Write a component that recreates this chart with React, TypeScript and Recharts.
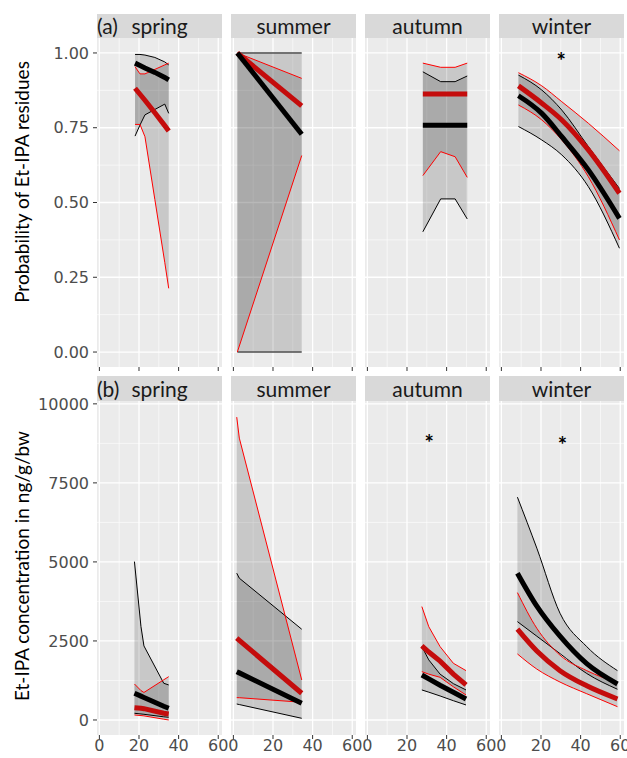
import React from "react";
import { ComposedChart, Area, Line, XAxis, YAxis, CartesianGrid, ReferenceDot } from "recharts";

const seasons = ["spring", "summer", "autumn", "winter"];
const xTicks = [0, 20, 40, 60];
const xMinor = [10, 30, 50];
const probTicks = [0, 0.25, 0.5, 0.75, 1];
const probMinor = [0.125, 0.375, 0.625, 0.875];
const concTicks = [0, 2500, 5000, 7500, 10000];
const concMinor = [1250, 3750, 6250, 8750];

// (a) probability of residues
const pSprX = [18, 20.5, 23, 28, 33, 35];
const pSprBFit = [0.966, 0.958, 0.95, 0.935, 0.918, 0.91];
const pSprBLo = [0.722, 0.759, 0.793, 0.811, 0.829, 0.798];
const pSprBHi = [0.995, 0.995, 0.993, 0.985, 0.97, 0.96];
const pSprRFit = [0.882, 0.862, 0.842, 0.8, 0.757, 0.739];
const pSprRLo = [0.761, 0.761, 0.72, 0.51, 0.3, 0.213];
const pSprRHi = [0.954, 0.93, 0.93, 0.945, 0.96, 0.966];

const pSumX = [2, 34.5];
const pSumBFit = [1.0, 0.728];
const pSumBLo = [0, 0];
const pSumBHi = [1, 1];
const pSumRFit = [1.0, 0.823];
const pSumRLo = [0, 0.657];
const pSumRHi = [1.0, 0.915];

const pAutX = [28, 37, 44.3, 50.4];
const pAutBFit = [0.758, 0.758, 0.758, 0.758];
const pAutBLo = [0.402, 0.512, 0.512, 0.445];
const pAutBHi = [0.937, 0.904, 0.904, 0.923];
const pAutRFit = [0.863, 0.863, 0.863, 0.863];
const pAutRLo = [0.59, 0.67, 0.653, 0.584];
const pAutRHi = [0.966, 0.952, 0.952, 0.966];

const pWinX = [8.6, 20.4, 30.5, 43.9, 59.6];
const pWinBFit = [0.857, 0.798, 0.72, 0.609, 0.447];
const pWinBLo = [0.754, 0.709, 0.659, 0.553, 0.347];
const pWinBHi = [0.926, 0.876, 0.809, 0.687, 0.547];
const pWinRFit = [0.89, 0.832, 0.776, 0.676, 0.531];
const pWinRLo = [0.826, 0.776, 0.709, 0.586, 0.375];
const pWinRHi = [0.934, 0.89, 0.837, 0.765, 0.673];

// (b) concentration in ng/g/bw
const cSprX = [17.7, 21, 22.5, 32.5, 35];
const cSprBFit = [845, 754, 712, 434, 370];
const cSprBLo = [212, 190, 180, 100, 85];
const cSprBHi = [5010, 2953, 2342, 1161, 1108];
const cSprRFit = [390, 368, 358, 212, 190];
const cSprRLo = [158, 140, 130, 25, 0];
const cSprRHi = [1139, 930, 870, 1272, 1371];

const cSumX = [1.7, 3, 34.5];
const cSumBFit = [1529, 1490, 528];
const cSumBLo = [506, 488, 53];
const cSumBHi = [4643, 4485, 2871];
const cSumRFit = [2586, 2515, 845];
const cSumRLo = [706, 705, 560];
const cSumRHi = [9580, 8916, 1266];

const cAutX = [27.5, 31, 36.7, 43.4, 49.8];
const cAutBFit = [1424, 1300, 1100, 880, 665];
const cAutBLo = [950, 880, 760, 610, 475];
const cAutBHi = [2320, 1900, 1450, 1150, 950];
const cAutRFit = [2342, 2150, 1860, 1450, 1108];
const cAutRLo = [1529, 1450, 1350, 1050, 791];
const cAutRHi = [3587, 2950, 2320, 1794, 1561];

const cWinX = [8.1, 17.9, 29.6, 43.1, 58.6];
const cWinBFit = [4643, 3600, 2650, 1780, 1139];
const cWinBLo = [3111, 2650, 2100, 1470, 972];
const cWinBHi = [7048, 5434, 3377, 2320, 1561];
const cWinRFit = [2871, 2180, 1560, 1080, 665];
const cWinRLo = [2089, 1610, 1200, 830, 421];
const cWinRHi = [4029, 2900, 2050, 1560, 1181];

// significance marks: [panel index, x, y]
const probStars = [[3, 30.2, 0.973]];
const concStars = [[2, 31.2, 8777], [3, 30.8, 8704]];

const build = (x: number[], bFit: number[], bLo: number[], bHi: number[], rFit: number[], rLo: number[], rHi: number[]) =>
  x.map((v, i) => ({
    x: v,
    bFit: bFit[i], bLo: bLo[i], bHi: bHi[i], bBand: [bLo[i], bHi[i]],
    rFit: rFit[i], rLo: rLo[i], rHi: rHi[i], rBand: [rLo[i], rHi[i]],
  }));

const probRows = [
  build(pSprX, pSprBFit, pSprBLo, pSprBHi, pSprRFit, pSprRLo, pSprRHi),
  build(pSumX, pSumBFit, pSumBLo, pSumBHi, pSumRFit, pSumRLo, pSumRHi),
  build(pAutX, pAutBFit, pAutBLo, pAutBHi, pAutRFit, pAutRLo, pAutRHi),
  build(pWinX, pWinBFit, pWinBLo, pWinBHi, pWinRFit, pWinRLo, pWinRHi),
];
const concRows = [
  build(cSprX, cSprBFit, cSprBLo, cSprBHi, cSprRFit, cSprRLo, cSprRHi),
  build(cSumX, cSumBFit, cSumBLo, cSumBHi, cSumRFit, cSumRLo, cSumRHi),
  build(cAutX, cAutBFit, cAutBLo, cAutBHi, cAutRFit, cAutRLo, cAutRHi),
  build(cWinX, cWinBFit, cWinBLo, cWinBHi, cWinRFit, cWinRLo, cWinRHi),
];
// winter fits are smooth curves, the rest are straight segments
const curveTypes = ["linear", "linear", "linear", "monotone"];

const COLS = [97, 231, 365, 499];
const PW = 125;
const YW = 62;
const MX = 12;
const X_DOMAIN = [-1.2, 61.9];
const TICK_FONT = { fontSize: 16, fill: "#4D4D4D", fontFamily: "DejaVu Sans" };
const LABEL_FONT = "Lato, 'Open Sans', sans-serif";

const Star = (props: any) => (
  <text x={props.cx} y={props.cy + 8} textAnchor="middle" fontSize={22} fontWeight="bold" fontFamily={LABEL_FONT} fill="#000">
    *
  </text>
);

type PanelProps = {
  rows: any[];
  col: number;
  top: number;
  plotH: number;
  yDomain: number[];
  yTicks: number[];
  yMinor: number[];
  fmt: (v: number) => string;
  showX: boolean;
  stars: number[][];
};

const Panel = ({ rows, col, top, plotH, yDomain, yTicks, yMinor, fmt, showX, stars }: PanelProps) => {
  const first = col === 0;
  const yW = first ? YW : 0;
  const mL = first ? 0 : MX;
  const mT = 10;
  const xH = showX ? 22 : 4;
  const curve: any = curveTypes[col];
  return (
    <div style={{ position: "absolute", left: COLS[col] - yW - mL, top: top - mT }}>
      <ComposedChart
        width={PW + yW + mL + MX}
        height={plotH + xH + mT}
        data={rows}
        margin={{ top: mT, right: MX, bottom: 0, left: mL }}
      >
        <CartesianGrid fill="#EBEBEB" stroke="#FFFFFF" strokeWidth={1.3} verticalValues={xTicks} horizontalValues={yTicks} />
        <CartesianGrid stroke="#FFFFFF" strokeWidth={0.6} verticalValues={xMinor} horizontalValues={yMinor} />
        <XAxis
          type="number"
          dataKey="x"
          domain={X_DOMAIN}
          ticks={xTicks}
          interval={0}
          allowDataOverflow
          axisLine={false}
          tickLine={{ stroke: "#333" }}
          tickSize={4}
          tickMargin={1}
          height={xH}
          tick={TICK_FONT}
          tickFormatter={(v: number) => (showX ? String(v) : "")}
        />
        <YAxis
          type="number"
          domain={yDomain}
          ticks={yTicks}
          interval={0}
          allowDataOverflow
          hide={!first}
          width={yW}
          axisLine={false}
          tickLine={{ stroke: "#333" }}
          tickSize={4}
          tickMargin={4}
          tick={TICK_FONT}
          tickFormatter={fmt}
        />
        <Area type={curve} dataKey="bBand" stroke="none" fill="#000" fillOpacity={0.15} isAnimationActive={false} dot={false} activeDot={false} />
        <Area type={curve} dataKey="rBand" stroke="none" fill="#000" fillOpacity={0.15} isAnimationActive={false} dot={false} activeDot={false} />
        <Line type={curve} dataKey="bLo" stroke="#000" strokeWidth={1} dot={false} activeDot={false} isAnimationActive={false} />
        <Line type={curve} dataKey="bHi" stroke="#000" strokeWidth={1} dot={false} activeDot={false} isAnimationActive={false} />
        <Line type={curve} dataKey="rLo" stroke="#FF0000" strokeWidth={1} dot={false} activeDot={false} isAnimationActive={false} />
        <Line type={curve} dataKey="rHi" stroke="#FF0000" strokeWidth={1} dot={false} activeDot={false} isAnimationActive={false} />
        <Line type={curve} dataKey="rFit" stroke="#C40C0C" strokeWidth={5} dot={false} activeDot={false} isAnimationActive={false} />
        <Line type={curve} dataKey="bFit" stroke="#000" strokeWidth={5} dot={false} activeDot={false} isAnimationActive={false} />
        {stars
          .filter((s) => s[0] === col)
          .map((s, i) => (
            <ReferenceDot key={i} x={s[1]} y={s[2]} r={0} shape={Star} />
          ))}
      </ComposedChart>
    </div>
  );
};

const Strip = ({ col, top, h, text, tag }: { col: number; top: number; h: number; text: string; tag?: string }) => (
  <div
    style={{
      position: "absolute",
      left: COLS[col],
      top,
      width: PW,
      height: h,
      background: "#D9D9D9",
      fontFamily: LABEL_FONT,
      fontSize: 21,
      lineHeight: `${h}px`,
      color: "#1A1A1A",
      textAlign: "center",
    }}
  >
    {text}
    {tag && <span style={{ position: "absolute", left: 0, top: 0 }}>{tag}</span>}
  </div>
);

const Title = ({ cy, text }: { cy: number; text: string }) => (
  <div
    style={{
      position: "absolute",
      left: 21,
      top: cy,
      transform: "translate(-50%, -50%) rotate(-90deg)",
      whiteSpace: "nowrap",
      fontFamily: LABEL_FONT,
      fontSize: 19,
      color: "#000",
    }}
  >
    {text}
  </div>
);

export default function App() {
  return (
    <div style={{ position: "absolute", left: 0, top: 0, width: 627, height: 758, background: "#fff", overflow: "hidden" }}>
      <Title cy={182} text="Probability of Et-IPA residues" />
      <Title cy={566} text="Et-IPA concentration in ng/g/bw" />
      {probRows.map((rows, i) => (
        <Panel
          key={"pa" + i}
          rows={rows}
          col={i}
          top={38}
          plotH={329}
          yDomain={[-0.05, 1.05]}
          yTicks={probTicks}
          yMinor={probMinor}
          fmt={(v) => v.toFixed(2)}
          showX={false}
          stars={probStars}
        />
      ))}
      {concRows.map((rows, i) => (
        <Panel
          key={"pb" + i}
          rows={rows}
          col={i}
          top={401}
          plotH={334}
          yDomain={[-475, 10090]}
          yTicks={concTicks}
          yMinor={concMinor}
          fmt={(v) => String(v)}
          showX={true}
          stars={concStars}
        />
      ))}
      {seasons.map((s, i) => (
        <Strip key={"sa" + s} col={i} top={14} h={24} text={s} tag={i === 0 ? "(a)" : undefined} />
      ))}
      {seasons.map((s, i) => (
        <Strip key={"sb" + s} col={i} top={376} h={25} text={s} tag={i === 0 ? "(b)" : undefined} />
      ))}
    </div>
  );
}
